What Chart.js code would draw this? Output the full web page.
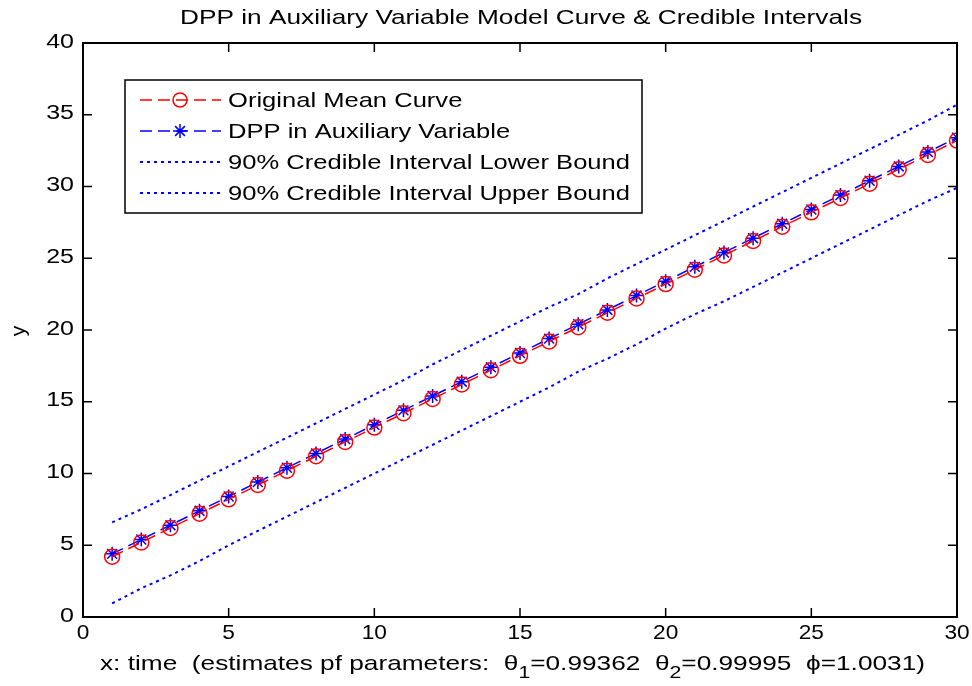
<!DOCTYPE html>
<html>
<head>
<meta charset="utf-8">
<script src="https://cdn.jsdelivr.net/npm/chart.js@4"></script>
<style>
  body { margin: 0; background: #fff; }
  #wrap { width: 972px; height: 686px; }
</style>
</head>
<body>
<div id="wrap"><canvas id="grafico" width="972" height="686"></canvas></div>
<script>
const tiempo = [1,2,3,4,5,6,7,8,9,10,11,12,13,14,15,16,17,18,19,20,21,22,23,24,25,26,27,28,29,30];
const curvaMedia = [4.2,5.2,6.2,7.2,8.2,9.2,10.2,11.2,12.2,13.2,14.2,15.2,16.2,17.2,18.2,19.2,20.2,21.2,22.2,23.2,24.2,25.2,26.2,27.2,28.2,29.2,30.2,31.2,32.2,33.2];
const curvaDPP = [4.4,5.4,6.4,7.4,8.4,9.4,10.4,11.4,12.4,13.4,14.4,15.4,16.4,17.4,18.4,19.4,20.4,21.4,22.4,23.4,24.4,25.4,26.4,27.4,28.4,29.4,30.4,31.4,32.4,33.4];
const limiteInf = [0.95,2.0,2.9,3.9,5.0,6.0,7.0,8.0,9.0,10.0,11.0,12.0,13.0,14.0,15.0,16.0,17.1,18.0,19.0,20.1,21.1,22.0,23.0,24.0,25.0,26.0,27.0,28.0,29.0,29.9];
const limiteSup = [6.6,7.5,8.5,9.5,10.5,11.5,12.5,13.5,14.5,15.5,16.5,17.6,18.6,19.6,20.6,21.6,22.5,23.6,24.6,25.6,26.6,27.6,28.6,29.6,30.6,31.6,32.6,33.6,34.6,35.7];
const ticksX = [0,5,10,15,20,25,30];
const ticksY = [0,5,10,15,20,25,30,35,40];
const etiquetas = ["Original Mean Curve", "DPP in Auxiliary Variable",
  "90% Credible Interval Lower Bound", "90% Credible Interval Upper Bound"];

const fuente = "'Liberation Sans', Arial, sans-serif";
const pares = (ys) => tiempo.map((x, i) => ({ x: x, y: ys[i] }));

// texto estirado en horizontal (la figura original esta ensanchada)
function textoAncho(c, txt, x, y, escala, alin) {
  const w = c.measureText(txt).width * escala;
  let x0 = x;
  if (alin === "center") x0 = x - w / 2;
  if (alin === "right") x0 = x - w;
  c.save();
  c.translate(x0, y);
  c.scale(escala, 1);
  c.textAlign = "left";
  c.fillText(txt, 0, 0);
  c.restore();
  return w;
}

const marcoMatlab = {
  id: "marcoMatlab",
  afterDraw(chart) {
    const c = chart.ctx;
    const a = chart.chartArea;
    const sx = chart.scales.x, sy = chart.scales.y;
    c.save();
    c.strokeStyle = "#000";
    c.lineWidth = 2;
    c.strokeRect(a.left, a.top, a.right - a.left, a.bottom - a.top);
    c.lineWidth = 1.5;
    c.fillStyle = "#000";
    c.textBaseline = "middle";

    // ticks hacia dentro y etiquetas
    c.font = "21px " + fuente;
    ticksX.forEach(v => {
      const px = sx.getPixelForValue(v);
      c.beginPath();
      c.moveTo(px, a.bottom); c.lineTo(px, a.bottom - 9);
      c.moveTo(px, a.top); c.lineTo(px, a.top + 9);
      c.stroke();
      textoAncho(c, String(v), px, 633, 1.08, "center");
    });
    c.font = "20px " + fuente;
    ticksY.forEach(v => {
      const py = sy.getPixelForValue(v);
      c.beginPath();
      c.moveTo(a.left, py); c.lineTo(a.left + 9, py);
      c.moveTo(a.right, py); c.lineTo(a.right - 9, py);
      c.stroke();
      textoAncho(c, String(v), 74, py - 1, 1.25, "right");
    });

    // titulo
    c.font = "21px " + fuente;
    const titulo = "DPP in Auxiliary Variable Model Curve & Credible Intervals";
    textoAncho(c, titulo, 521, 18, 682 / c.measureText(titulo).width, "center");

    // etiqueta y
    c.save();
    c.translate(19, 331);
    c.rotate(-Math.PI / 2);
    c.font = "21px " + fuente;
    c.textAlign = "center";
    c.fillText("y", 0, 0);
    c.restore();

    // etiqueta x con subindices
    const partes = [
      ["x: time  (estimates pf parameters:  ", false],
      ["\u03b8", false], ["1", true], ["=0.99362  ", false],
      ["\u03b8", false], ["2", true], ["=0.99995  ", false],
      ["\u03d5", false], ["=1.0031)", false]
    ];
    const fNormal = "21px " + fuente, fSub = "17px " + fuente;
    let ancho = 0;
    partes.forEach(p => { c.font = p[1] ? fSub : fNormal; ancho += c.measureText(p[0]).width; });
    const esc = 825 / ancho;
    let xx = 100;
    c.textBaseline = "alphabetic";
    partes.forEach(p => {
      c.font = p[1] ? fSub : fNormal;
      xx += textoAncho(c, p[0], xx, p[1] ? 678 : 670, esc, "left");
    });

    // leyenda
    const lx = 125, ly = 80, lw = 517, lh = 133;
    c.fillStyle = "#fff";
    c.fillRect(lx, ly, lw, lh);
    c.strokeStyle = "#000";
    c.lineWidth = 1.5;
    c.strokeRect(lx, ly, lw, lh);
    c.font = "21px " + fuente;
    const escLeyenda = 402 / c.measureText(etiquetas[2]).width;
    const filas = [100, 131, 162, 193];
    chart.data.datasets.forEach((ds, i) => {
      const yy = filas[i];
      c.strokeStyle = ds.borderColor;
      c.lineWidth = ds.borderWidth;
      c.setLineDash(ds.borderDash);
      c.beginPath();
      c.moveTo(140, yy); c.lineTo(221, yy);
      c.stroke();
      c.setLineDash([]);
      c.lineWidth = 1.5;
      if (ds.pointStyle === "circle") {
        c.beginPath();
        c.arc(180, yy, 7, 0, Math.PI * 2);
        c.stroke();
      } else if (ds.pointStyle === "star") {
        const r = 7;
        c.beginPath();
        c.moveTo(180 - r, yy); c.lineTo(180 + r, yy);
        c.moveTo(180, yy - r); c.lineTo(180, yy + r);
        c.moveTo(180 - r * 0.7, yy - r * 0.7); c.lineTo(180 + r * 0.7, yy + r * 0.7);
        c.moveTo(180 - r * 0.7, yy + r * 0.7); c.lineTo(180 + r * 0.7, yy - r * 0.7);
        c.stroke();
      }
      c.fillStyle = "#000";
      c.textBaseline = "middle";
      textoAncho(c, etiquetas[i], 228, yy + 1, escLeyenda, "left");
    });
    c.restore();
  }
};

const ctx = document.getElementById("grafico").getContext("2d");
const grafico = new Chart(ctx, {
  type: "line",
  data: {
    datasets: [
      {
        label: etiquetas[0],
        data: pares(curvaMedia),
        borderColor: "#ff0000",
        borderWidth: 1.5,
        borderDash: [12, 6],
        pointStyle: "circle",
        pointRadius: 7.5,
        pointBorderWidth: 1.5,
        pointBorderColor: "#ff0000",
        pointBackgroundColor: "rgba(0,0,0,0)",
        fill: false
      },
      {
        label: etiquetas[1],
        data: pares(curvaDPP),
        borderColor: "#0000ff",
        borderWidth: 1.5,
        borderDash: [12, 6],
        pointStyle: "star",
        pointRadius: 7,
        pointBorderWidth: 1.5,
        pointBorderColor: "#0000ff",
        fill: false
      },
      {
        label: etiquetas[2],
        data: pares(limiteInf),
        borderColor: "#0000ff",
        borderWidth: 2,
        borderDash: [3, 4],
        pointRadius: 0,
        fill: false
      },
      {
        label: etiquetas[3],
        data: pares(limiteSup),
        borderColor: "#0000ff",
        borderWidth: 2,
        borderDash: [3, 4],
        pointRadius: 0,
        fill: false
      }
    ]
  },
  options: {
    responsive: false,
    animation: false,
    events: [],
    layout: { padding: { top: 43, right: 15, left: 0, bottom: 0 } },
    plugins: {
      legend: { display: false },
      tooltip: { enabled: false },
      title: { display: false }
    },
    scales: {
      x: {
        type: "linear",
        min: 0,
        max: 30,
        grid: { display: false, drawTicks: false },
        border: { display: false },
        afterBuildTicks: (s) => { s.ticks = ticksX.map(v => ({ value: v })); },
        afterFit: (s) => { s.height = 69; },
        ticks: { display: false }
      },
      y: {
        min: 0,
        max: 40,
        grid: { display: false, drawTicks: false },
        border: { display: false },
        afterBuildTicks: (s) => { s.ticks = ticksY.map(v => ({ value: v })); },
        afterFit: (s) => { s.width = 83; },
        ticks: { display: false }
      }
    }
  },
  plugins: [marcoMatlab]
});
</script>
</body>
</html>
